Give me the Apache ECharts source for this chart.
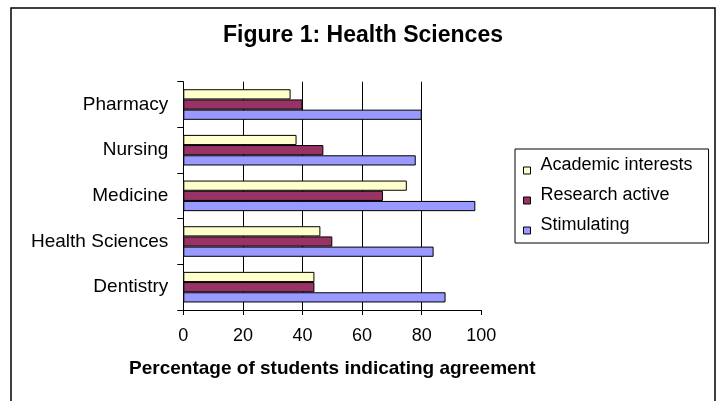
<!DOCTYPE html>
<html>
<head>
<meta charset="utf-8">
<style>
html,body{margin:0;padding:0;background:#fff;}
#chart{width:720px;height:401px;}
</style>
<script src="https://cdn.jsdelivr.net/npm/echarts@6/dist/echarts.min.js"></script>
</head>
<body>
<div id="chart"></div>
<script>
var categories = ['Dentistry', 'Health Sciences', 'Medicine', 'Nursing', 'Pharmacy'];
var seriesNames = ['Academic interests', 'Research active', 'Stimulating'];
var academicInterests = [44, 46, 75, 38, 36];
var researchActive = [44, 50, 67, 47, 40];
var stimulating = [88, 84, 98, 78, 80];
var xTicks = [0, 20, 40, 60, 80, 100];

var colors = ['#FFFFCC', '#993366', '#9999FF'];
var FONT = '"Liberation Sans", Arial, sans-serif';

var chart = echarts.init(document.getElementById('chart'), null, {renderer: 'canvas'});

function barSeries(name, data, color) {
  return {
    name: name,
    type: 'bar',
    data: data,
    barGap: '0%',
    barCategoryGap: '33%',
    itemStyle: {color: color, borderColor: '#000', borderWidth: 1},
    emphasis: {disabled: true},
    animation: false
  };
}

chart.setOption({
  backgroundColor: '#fff',
  animation: false,
  title: {
    text: 'Figure 1: Health Sciences',
    left: 363,
    textAlign: 'center',
    top: 24,
    padding: 0,
    textStyle: {fontFamily: FONT, fontSize: 23, fontWeight: 'bold', color: '#000'}
  },
  legend: {
    orient: 'vertical',
    left: 515,
    top: 149,
    data: seriesNames,
    itemWidth: 7,
    itemHeight: 17,
    itemGap: 12,
    icon: 'path://M0,0 M0,10 L7,10 L7,17 L0,17 Z',
    padding: [7.5, 16, 8.5, 8],
    borderColor: '#000',
    borderWidth: 1,
    selectedMode: false,
    itemStyle: {borderColor: '#000', borderWidth: 1},
    textStyle: {fontFamily: FONT, fontSize: 18, color: '#000', padding: [0, 0, 0, 5]}
  },
  grid: {left: 183.3, right: 238.7, top: 81.7, bottom: 91, containLabel: false},
  xAxis: {
    type: 'value',
    min: xTicks[0],
    max: xTicks[xTicks.length - 1],
    interval: xTicks[1] - xTicks[0],
    name: 'Percentage of students indicating agreement',
    nameLocation: 'middle',
    nameGap: 49.5,
    nameTextStyle: {fontFamily: FONT, fontSize: 19, fontWeight: 'bold', color: '#000'},
    axisLine: {show: true, lineStyle: {color: '#000', width: 1}},
    axisTick: {show: true, length: 5, lineStyle: {color: '#000'}},
    axisLabel: {fontFamily: FONT, fontSize: 18, color: '#000', margin: 17},
    splitLine: {show: true, showMinLine: false, showMaxLine: false, lineStyle: {color: '#000', width: 1}}
  },
  yAxis: {
    type: 'category',
    data: categories,
    axisLine: {show: true, lineStyle: {color: '#000', width: 1}},
    axisTick: {show: true, length: 6, lineStyle: {color: '#000'}},
    axisLabel: {fontFamily: FONT, fontSize: 19, color: '#000', margin: 15},
    splitLine: {show: false}
  },
  series: [
    barSeries(seriesNames[0], academicInterests, colors[0]),
    barSeries(seriesNames[1], researchActive, colors[1]),
    barSeries(seriesNames[2], stimulating, colors[2])
  ],
  graphic: [{
    type: 'rect',
    shape: {x: 11, y: 8, width: 704, height: 420},
    style: {fill: 'none', stroke: '#000', lineWidth: 1.5},
    silent: true,
    z: 100
  }]
});
</script>
</body>
</html>
